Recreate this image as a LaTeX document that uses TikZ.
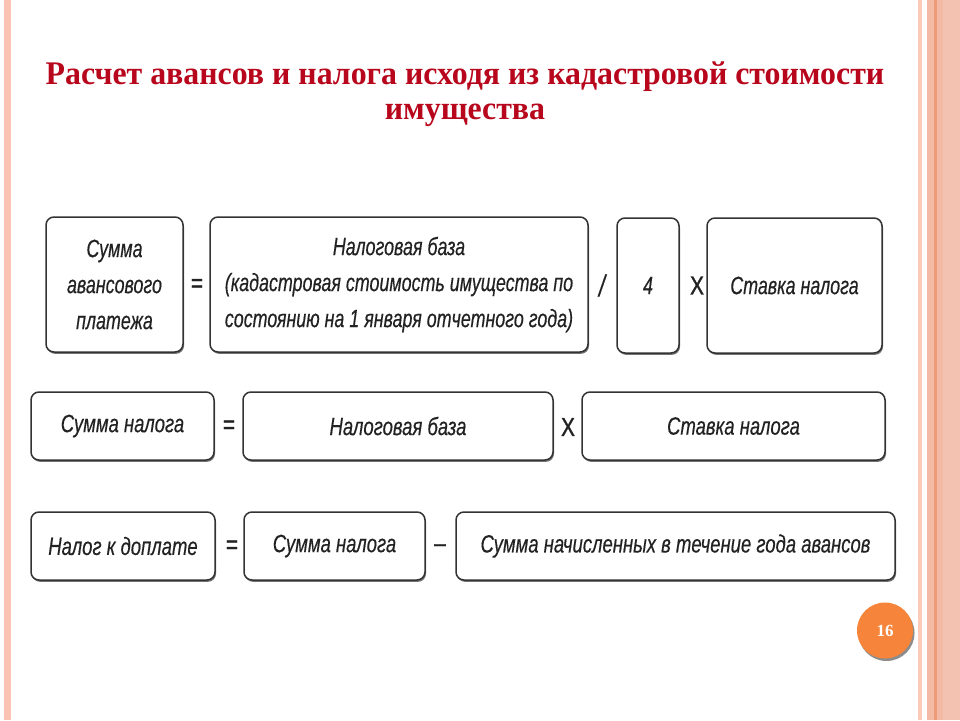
\documentclass[tikz,border=0pt]{standalone}
\usepackage{fontspec}
\setmainfont{Liberation Serif}
\newfontfamily\titlefont[FakeStretch=0.965]{Liberation Serif}
\newfontfamily\boxfont[FakeStretch=0.74,FakeBold=0.35]{Liberation Sans}
\newfontfamily\boxfontn[FakeStretch=0.715,FakeBold=0.35]{Liberation Sans}
\newfontfamily\opfont[FakeStretch=0.8,FakeBold=1.2]{Liberation Sans}
\usetikzlibrary{shadows}
\definecolor{titlered}{HTML}{B8071C}
\definecolor{boxline}{HTML}{333333}
\definecolor{boxtext}{HTML}{222222}
\definecolor{stripeA}{HTML}{FBC3B3}
\definecolor{stripeB}{HTML}{FCCAB8}
\definecolor{stripeC}{HTML}{F3BBA6}
\definecolor{stripeD}{HTML}{EE9C78}
\definecolor{stripeE}{HTML}{F4C2B0}
\definecolor{pageorange}{HTML}{F6843A}
\tikzset{
  fbox/.style={draw=boxline, line width=1.5pt, rounded corners=8pt, fill=white,
    inner sep=0pt, align=center, text=boxtext,
    font=\boxfont\itshape\fontsize{25}{36}\selectfont,
    drop shadow={shadow xshift=1pt, shadow yshift=-1.8pt, fill=black!55, opacity=1}},
  rowone/.style={font=\boxfontn\itshape\fontsize{25}{36}\selectfont},
  opsym/.style={inner sep=0pt, text=boxtext, font=\opfont\fontsize{26}{30}\selectfont},
  titletext/.style={align=center, text=titlered, inner sep=0pt,
    font=\titlefont\bfseries\fontsize{33}{35}\selectfont}
}
\begin{document}
\begin{tikzpicture}[x=1pt,y=-1pt]
\useasboundingbox (0,0) rectangle (960,720);
\fill[white] (0,0) rectangle (960,720);
% side stripes
\fill[stripeA] (4,0) rectangle (11,720);
\fill[stripeB] (918,0) rectangle (922,720);
\fill[stripeC] (927,0) rectangle (960,720);
\fill[stripeE] (943,0) rectangle (960,720);
\fill[stripeD] (934,0) rectangle (937,720);
% title
\node[titletext] (title) at (465,94.5) {Расчет авансов и налога исходя из кадастровой стоимости\\имущества};
% row 1
\node[fbox, rowone, minimum width=137pt, minimum height=135pt] (a) at (114.5,284.5) {Сумма\\авансового\\платежа};
\node[opsym] (eq1) at (197,285.5) {=};
\node[fbox, rowone, minimum width=378pt, minimum height=135pt] (b) at (399,284.5) {Налоговая база\\(кадастровая стоимость имущества по\\состоянию на 1 января отчетного года)};
\node[opsym, font=\boxfont\itshape\fontsize{30}{30}\selectfont] (div1) at (602,285.5) {/};
\node[fbox, rowone, minimum width=62pt, minimum height=135pt] (c) at (648,285.5) {4};
\node[opsym] (mul1) at (697,285.5) {X};
\node[fbox, rowone, minimum width=175pt, minimum height=135pt] (d) at (794.5,285.5) {Ставка налога};
% row 2
\node[fbox, minimum width=183pt, minimum height=68pt] (e) at (122.5,426) {Сумма налога};
\node[opsym] (eq2) at (229,427) {=};
\node[fbox, minimum width=310pt, minimum height=68pt] (f) at (398,426) {Налоговая база};
\node[opsym] (mul2) at (568,427) {X};
\node[fbox, minimum width=303pt, minimum height=68pt] (g) at (733.5,426) {Ставка налога};
% row 3
\node[fbox, minimum width=184pt, minimum height=68pt] (h) at (123,546) {Налог к доплате};
\node[opsym] (eq3) at (232,547) {=};
\node[fbox, minimum width=181pt, minimum height=68pt] (i) at (334.5,546) {Сумма налога};
\node[opsym] (minus3) at (440,548) {–};
\node[fbox, minimum width=439pt, minimum height=68pt] (j) at (675.5,546) {Сумма начисленных в течение года авансов};
% page number
\fill[black!45] (886.5,633) circle (28pt);
\node[circle, fill=pageorange, minimum size=56pt, inner sep=0pt, text=white,
  font=\bfseries\fontsize{17}{17}\selectfont] (pnum) at (885,630.5) {16};
\end{tikzpicture}
\end{document}
